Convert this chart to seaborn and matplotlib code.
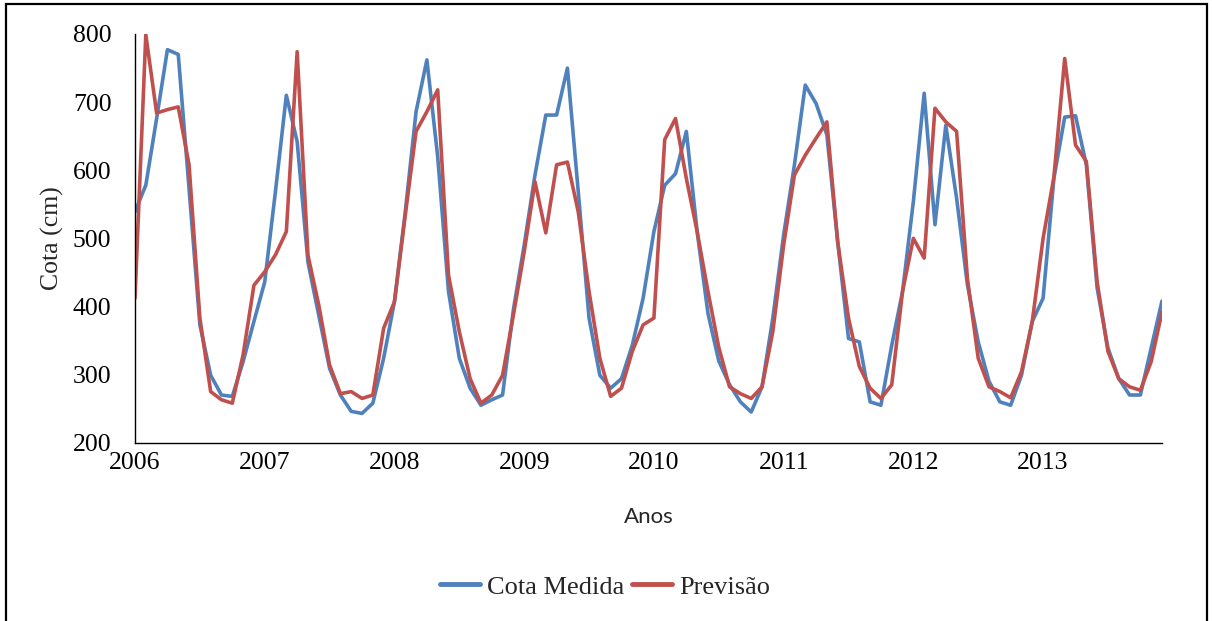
import matplotlib
matplotlib.use("Agg")
import numpy as np
import pandas as pd
import matplotlib.pyplot as plt
import seaborn as sns
from matplotlib.patches import Rectangle

# dados mensais (jan/2006 - dez/2013)
cota_medida = [
    539, 578, 676, 777, 770, 573, 373, 299, 270, 268, 319, 378,
    436, 570, 710, 642, 465, 387, 309, 270, 246, 243, 258, 324,
    407, 539, 686, 762, 620, 422, 324, 280, 255, 263, 270, 395,
    490, 593, 681, 681, 750, 569, 383, 299, 280, 294, 343, 412,
    510, 578, 595, 657, 510, 390, 320, 285, 260, 245, 282, 383,
    505, 608, 725, 698, 652, 495, 353, 348, 260, 255, 343, 422,
    554, 713, 520, 666, 559, 432, 348, 290, 260, 255, 299, 378,
    412, 588, 678, 680, 608, 427, 339, 294, 270, 270, 339, 408,
]
previsao = [
    412, 799, 684, 689, 693, 608, 383, 275, 263, 258, 329, 431,
    451, 476, 510, 774, 475, 402, 314, 272, 275, 265, 270, 368,
    407, 534, 657, 686, 718, 446, 363, 294, 258, 270, 299, 387,
    480, 583, 508, 608, 612, 539, 422, 324, 268, 280, 334, 373,
    383, 645, 676, 588, 510, 422, 340, 282, 272, 265, 282, 363,
    490, 593, 622, 647, 671, 495, 383, 312, 280, 265, 285, 422,
    500, 471, 691, 671, 657, 441, 324, 282, 275, 266, 304, 378,
    500, 590, 764, 637, 613, 436, 334, 294, 282, 277, 319, 392,
]
anos = ["2006", "2007", "2008", "2009", "2010", "2011", "2012", "2013"]

meses = np.arange(len(cota_medida))
df = pd.DataFrame({
    "mes": np.concatenate([meses, meses]),
    "cota": cota_medida + previsao,
    "serie": ["Cota Medida"] * len(meses) + ["Previsão"] * len(meses),
})

sns.set_style("white")
plt.rcParams["font.family"] = ["Liberation Serif", "DejaVu Serif"]

fig = plt.figure(figsize=(12.12, 6.21), dpi=100)
ax = fig.add_axes([135 / 1212, 1 - 442.7 / 621, (1162 - 135) / 1212, (442.7 - 34) / 621])

sns.lineplot(data=df, x="mes", y="cota", hue="serie",
             palette={"Cota Medida": "#4F81BD", "Previsão": "#C0504D"},
             linewidth=2.6, ax=ax)
for ln in ax.get_lines():
    ln.set_solid_joinstyle("round")

ax.set_xlim(0, len(meses) - 1)
ax.set_ylim(200, 800)
ax.set_yticks(range(200, 801, 100))
ax.set_xticks(range(0, len(meses), 4))
ax.set_xticklabels([anos[m // 12] if m % 12 == 0 else "" for m in range(0, len(meses), 4)])
ax.tick_params(axis="both", direction="out", width=1, labelsize=18.5, colors="black")
ax.tick_params(axis="y", length=6, pad=11)
ax.tick_params(axis="x", length=5, pad=2)
for s in ["top", "right"]:
    ax.spines[s].set_visible(False)
for s in ["left", "bottom"]:
    ax.spines[s].set_color("black")
    ax.spines[s].set_linewidth(1.0)

ax.set_ylabel("Cota (cm)", fontsize=18.5, va="center")
ax.yaxis.set_label_coords(-0.0808, 0.5)
ax.set_xlabel("Anos", fontsize=16, family=["Lato", "DejaVu Sans"])
ax.xaxis.set_label_coords(0.5, -0.158)

leg = ax.legend(loc="center", bbox_to_anchor=(0.458, -0.353), ncol=2, frameon=False,
                fontsize=19, handlelength=1.5, handletextpad=0.28, columnspacing=0.3)
for line in leg.get_lines():
    line.set_linewidth(3.5)

# moldura da figura
fig.patches.append(Rectangle((6 / 1212, -0.05), 1201 / 1212, 1.043, transform=fig.transFigure,
                             fill=False, edgecolor="black", linewidth=1.6))

fig.savefig("out.png", dpi=100)
